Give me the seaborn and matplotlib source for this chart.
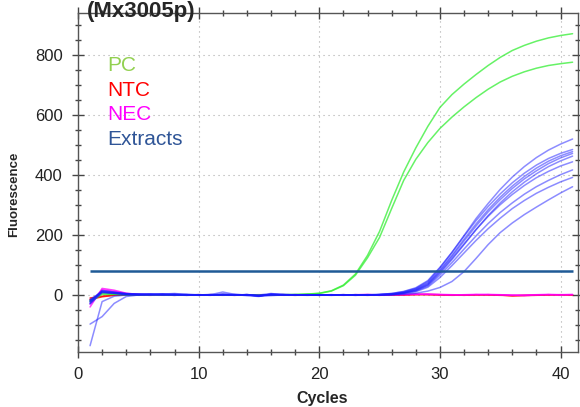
import numpy as np
import pandas as pd
import matplotlib
matplotlib.use("Agg")
import matplotlib.pyplot as plt
from matplotlib.ticker import MultipleLocator
import seaborn as sns

# Amplification plot data (Mx3005p run), cycles 1..41
cycles = list(range(1, 42))

pc_1 = [-18, 6, 3, 1, 0, 1, 0, -1, 0, 1,
        0, 1, 0, 0, -1, 0, 1, 2, 3, 6,
        14, 33, 70, 132, 212, 315, 410, 490, 562, 625,
        668, 703, 735, 765, 792, 815, 832, 846, 857, 865, 871]
pc_2 = [-22, 2, 2, 0, 1, 0, 1, 0, -1, 0,
        1, 0, 0, 1, 0, 0, 1, 1, 3, 5,
        13, 31, 66, 124, 192, 288, 382, 452, 508, 555,
        593, 627, 658, 686, 710, 729, 744, 756, 765, 771, 776]

ntc_1 = [-10, -4, 0, 1, 0, -1, 0, 1, 0, 0,
         1, 0, -1, 0, 1, 0, 0, -1, 0, 1,
         0, 0, 1, 0, -1, 0, 1, 2, 1, 0,
         -1, 0, 1, 0, -1, -2, -1, 0, 1, 0, 0]
ntc_2 = [-15, -6, -1, 0, 1, 0, 0, -1, 0, 1,
         0, 1, 0, 0, -1, 0, 1, 0, 0, -1,
         0, 1, 0, -1, 0, 1, 0, 1, 2, 1,
         0, -1, 0, 1, 0, -3, -2, -1, 0, 1, 0]

nec_1 = [-40, 22, 16, 6, 2, 1, 0, -1, 0, 1,
         0, 0, 1, -1, 0, 1, 0, 0, 1, 0,
         -1, 0, 1, 2, 0, 1, 2, 3, 2, 1,
         0, 1, 2, 1, 0, -1, 0, 1, 2, 1, 2]
nec_2 = [-30, 18, 12, 5, 1, 0, 1, 0, -1, 0,
         1, 0, 0, 1, 0, -1, 0, 1, 0, 0,
         1, 0, -1, 0, 1, 2, 1, 2, 3, 2,
         1, 0, 1, 2, 1, 0, -2, 0, 1, 0, 1]

ext_1 = [-28, 12, 8, 4, 2, 1, 3, 5, 2, 0,
         1, 10, 2, 0, -3, 2, 1, 0, -1, 0,
         1, 0, -1, 0, 2,
         5, 11, 22, 45, 90, 142, 198, 255, 305, 352, 393, 428, 458, 483, 503, 520]
ext_2 = [-20, 15, 10, 5, 3, 4, 1, 0, 2, 1,
         0, 2, 1, -2, -5, 4, 2, 1, 0, -1,
         0, 1, 0, 1, 2,
         5, 12, 24, 48, 92, 142, 196, 248, 295, 337, 374, 406, 433, 455, 472, 485]
ext_3 = [-169, -22, -4, 0, 2, 1, 0, 3, 1, 0,
         -1, 3, 0, 1, -4, -2, 0, 1, 0, 0,
         -1, 0, 1, 0, 1,
         3, 8, 18, 38, 80, 128, 180, 230, 277, 318, 355, 387, 414, 438, 457, 472]
ext_4 = [-30, 8, 6, 3, 4, 2, 0, 1, -1, 0,
         2, 1, 0, 1, 0, 5, 1, -1, 0, 1,
         0, -1, 0, 1, 0,
         2, 7, 15, 33, 72, 118, 168, 218, 265, 307, 344, 376, 404, 428, 447, 463]
ext_5 = [-97, -72, -28, -5, 0, 2, 1, 0, 1, -1,
         0, 1, 2, 0, -2, 1, 0, 0, 1, -1,
         0, 1, -1, 0, 1,
         2, 7, 16, 35, 76, 122, 170, 218, 262, 301, 335, 365, 391, 412, 430, 444]
ext_6 = [-18, 10, 7, 3, 1, 2, 4, 1, 0, 1,
         0, -1, 1, 0, -3, 3, 0, 1, 0, 0,
         1, 0, 0, -1, 1,
         2, 6, 13, 30, 66, 108, 153, 197, 238, 275, 307, 336, 361, 382, 401, 417]
ext_7 = [-25, 14, 9, 4, 2, 0, 2, 3, 1, 0,
         1, 0, -1, 2, -4, 0, 1, 0, -1, 0,
         0, 1, 0, 0, 0,
         1, 5, 11, 26, 58, 98, 140, 182, 221, 256, 288, 315, 339, 359, 377, 392]
ext_8 = [-15, 11, 6, 2, 1, 3, 2, 0, 1, 0,
         -1, 2, 0, 1, -2, 1, 2, 0, 0, 1,
         0, 0, 1, 0, 1,
         3, 9, 20, 41, 84, 133, 186, 237, 284, 326, 363, 395, 423, 446, 464, 478]
ext_9 = [-22, 9, 5, 2, 0, 1, 3, 1, 0, -1,
         0, 1, 0, -1, -2, 1, 0, 0, 1, 0,
         -1, 0, 0, 1, 0,
         0, 2, 6, 13, 25, 45, 78, 122, 168, 208, 240, 268, 293, 317, 340, 361]

threshold = 80

wells = {
    "NTC": [ntc_1, ntc_2],
    "NEC": [nec_1, nec_2],
    "PC": [pc_1, pc_2],
    "Extracts": [ext_1, ext_2, ext_3, ext_4, ext_5, ext_6, ext_7, ext_8, ext_9],
}

rows = []
for group, curves in wells.items():
    for i, curve in enumerate(curves):
        for c, f in zip(cycles, curve):
            rows.append({"Cycle": c, "Fluorescence": f, "Group": group,
                         "Well": f"{group}-{i + 1}"})
df = pd.DataFrame(rows)

line_colors = {"PC": "#33ee33", "NTC": "#ff0000", "NEC": "#ff00ff", "Extracts": "#1a1aff"}
line_alpha = {"PC": 0.75, "NTC": 0.8, "NEC": 0.75, "Extracts": 0.5}
label_colors = {"PC": "#92d050", "NTC": "#ff0000", "NEC": "#ff00ff", "Extracts": "#2f5597"}

sns.set_style("ticks")
plt.rcParams["font.family"] = ["Liberation Sans", "DejaVu Sans"]

fig = plt.figure(figsize=(5.8, 4.07), dpi=100)
ax = fig.add_axes([78 / 580, 1 - 352 / 407, 500 / 580, 339 / 407])

for group in ["NTC", "NEC", "PC", "Extracts"]:
    sns.lineplot(data=df[df["Group"] == group], x="Cycle", y="Fluorescence",
                 units="Well", estimator=None, color=line_colors[group],
                 alpha=line_alpha[group], lw=1.1, ax=ax, legend=False)

ax.hlines(threshold, cycles[0], cycles[-1], color="#1f5a96", lw=1.8, zorder=5)

ax.set_xlim(0, 41.45)
ax.set_ylim(-190, 940)
ax.xaxis.set_major_locator(MultipleLocator(10))
ax.xaxis.set_minor_locator(MultipleLocator(2))
ax.yaxis.set_major_locator(MultipleLocator(200))
ax.yaxis.set_minor_locator(MultipleLocator(50))
ax.tick_params(which="both", direction="inout", top=True, right=True,
               color="#444444", labelcolor="#222222")
ax.tick_params(which="major", length=8, width=1.0, labelsize=12, pad=7)
ax.tick_params(which="minor", length=5, width=1.0)
ax.grid(True, which="major", color="#aaaaaa", lw=0.8, linestyle=(0, (1, 3.5)))
for s in ax.spines.values():
    s.set_color("#555555")
    s.set_linewidth(1.0)
ax.set_xlabel("")
ax.set_ylabel("")

fig.text(322 / 580, 1 - 399 / 407, "Cycles", fontsize=11.5, fontweight="bold",
         ha="center", va="center")
fig.text(14 / 580, 1 - 194 / 407, "Fluorescence", fontsize=9.5, fontweight="bold",
         rotation=90, ha="center", va="center")
fig.text(87 / 580, 1 - 17 / 407, "(Mx3005p)", fontsize=16, fontweight="bold",
         ha="left", va="baseline")

label_y = {"PC": 65.5, "NTC": 90, "NEC": 115, "Extracts": 139.5}
for group, y in label_y.items():
    fig.text(107 / 580, 1 - y / 407, group, fontsize=15, color=label_colors[group],
             ha="left", va="center")

fig.savefig("out.png", dpi=100)
